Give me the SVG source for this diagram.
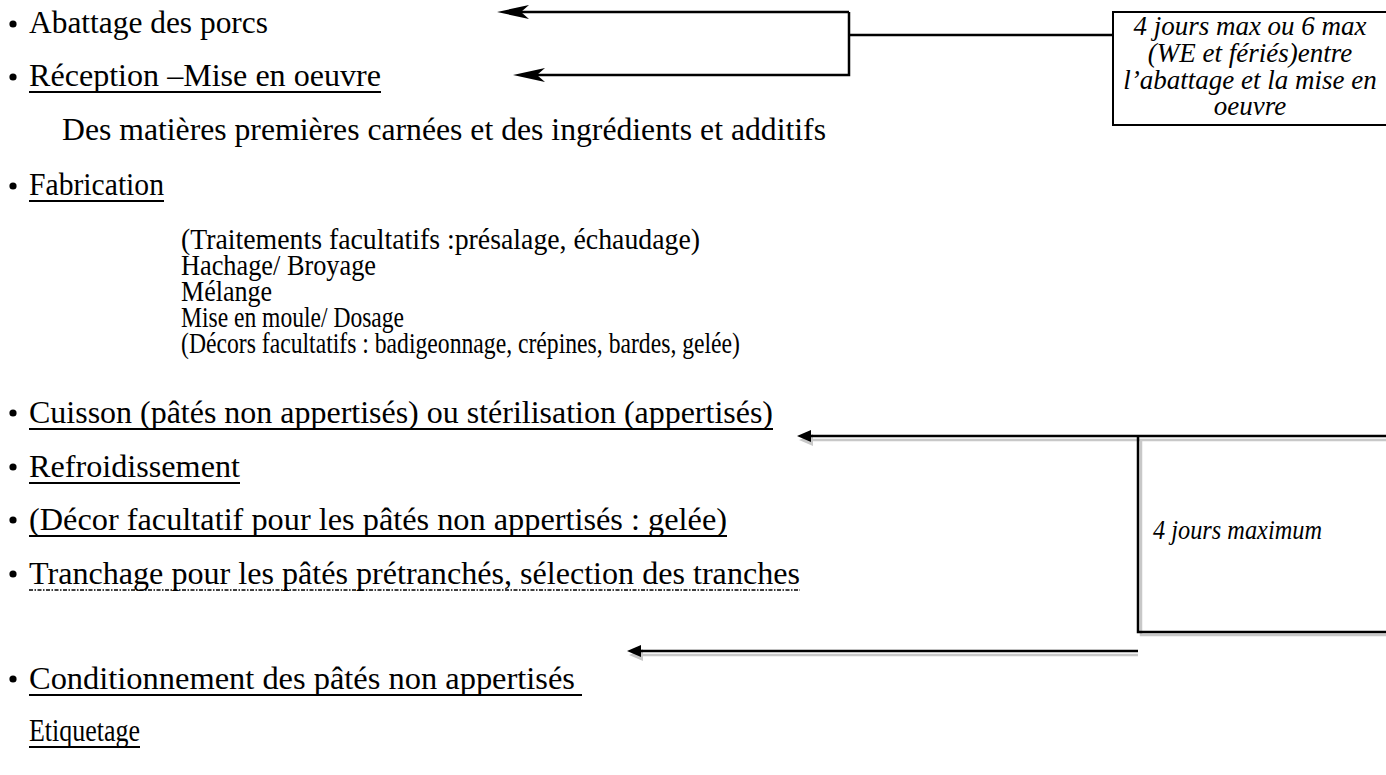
<svg xmlns="http://www.w3.org/2000/svg" width="1386" height="775" viewBox="0 0 1386 775">
<style>
.t{font-family:"Liberation Serif","Times New Roman",serif;font-size:31px;fill:#000}
.s{font-family:"Liberation Serif","Times New Roman",serif;font-size:29px;fill:#000}
.i{font-family:"Liberation Serif","Times New Roman",serif;font-size:27px;font-style:italic;fill:#000}
.u{stroke:#000;stroke-width:2;fill:none}
.ln{stroke:#000;stroke-width:2.5;fill:none}
.sh{stroke:#c8c8c8;stroke-width:2.5;fill:none}
.b{fill:#000}
</style>
<defs>
<marker id="barb" markerWidth="36" markerHeight="16" refX="13" refY="8" orient="auto" markerUnits="userSpaceOnUse">
<path d="M33,8 L1,1 L9,8 L1,15 Z" fill="#000"/>
</marker>
<marker id="tri" markerWidth="16" markerHeight="14" refX="5" refY="7" orient="auto" markerUnits="userSpaceOnUse">
<path d="M15,7 L1,1 L1,13 Z" fill="#000"/>
</marker>
<marker id="trisl" markerWidth="16" markerHeight="14" refX="5" refY="7" orient="auto" markerUnits="userSpaceOnUse">
<path d="M15,7 L1,1 L1,13 Z" fill="#c8c8c8"/>
</marker>
</defs>

<g id="connectors">
<path class="ln" d="M849,12 H517" marker-end="url(#barb)"/>
<path class="ln" d="M849,12 V75 H533" marker-end="url(#barb)"/>
<path class="ln" d="M849,35 H1113"/>
<path class="sh" d="M1386,440 H809" marker-end="url(#trisl)"/>
<path class="ln" d="M1386,436 H807" marker-end="url(#tri)"/>
<path class="sh" d="M1138,655 H639" marker-end="url(#trisl)"/>
<path class="ln" d="M1138,651 H637" marker-end="url(#tri)"/>
</g>

<g id="box-delai-abattage">
<rect x="1113" y="12" width="290" height="113" fill="#fff" stroke="#000" stroke-width="2"/>
<text class="i" x="1250" y="35" text-anchor="middle">4 jours max ou 6 max</text>
<text class="i" x="1250" y="62" text-anchor="middle">(WE et fériés)entre</text>
<text class="i" x="1250" y="89" text-anchor="middle">l’abattage et la mise en</text>
<text class="i" x="1250" y="115" text-anchor="middle">oeuvre</text>
</g>

<g id="box-4-jours">
<path class="sh" d="M1141,439 V635 H1386"/>
<path class="ln" d="M1138,436 V632 H1386"/>
<text class="i" x="1153" y="539" textLength="169" lengthAdjust="spacingAndGlyphs">4 jours maximum</text>
</g>

<g id="step-abattage">
<circle class="b" cx="13" cy="24" r="3.6"/>
<text class="t" x="29" y="33" textLength="239" lengthAdjust="spacingAndGlyphs">Abattage des porcs</text>
</g>

<g id="step-reception">
<circle class="b" cx="13" cy="77" r="3.6"/>
<text class="t" x="29" y="86" textLength="352" lengthAdjust="spacingAndGlyphs">Réception –Mise en oeuvre</text>
<line class="u" x1="29" y1="92" x2="381" y2="92"/>
<text class="t" x="62" y="140" textLength="764" lengthAdjust="spacingAndGlyphs">Des matières premières carnées et des ingrédients et additifs</text>
</g>

<g id="step-fabrication">
<circle class="b" cx="13" cy="186" r="3.6"/>
<text class="t" x="29" y="195" textLength="135" lengthAdjust="spacingAndGlyphs">Fabrication</text>
<line class="u" x1="29" y1="201" x2="164" y2="201"/>
<text class="s" x="181" y="249" textLength="519" lengthAdjust="spacingAndGlyphs">(Traitements facultatifs :présalage, échaudage)</text>
<text class="s" x="181" y="275" textLength="195" lengthAdjust="spacingAndGlyphs">Hachage/ Broyage</text>
<text class="s" x="181" y="301" textLength="91" lengthAdjust="spacingAndGlyphs">Mélange</text>
<text class="s" x="181" y="327" textLength="223" lengthAdjust="spacingAndGlyphs">Mise en moule/ Dosage</text>
<text class="s" x="181" y="353" textLength="559" lengthAdjust="spacingAndGlyphs">(Décors facultatifs : badigeonnage, crépines, bardes, gelée)</text>
</g>

<g id="step-cuisson">
<circle class="b" cx="13" cy="413" r="3.6"/>
<text class="t" x="29" y="423" textLength="744" lengthAdjust="spacingAndGlyphs">Cuisson (pâtés non appertisés) ou stérilisation (appertisés)</text>
<line class="u" x1="29" y1="429" x2="773" y2="429"/>
</g>

<g id="step-refroidissement">
<circle class="b" cx="13" cy="467" r="3.6"/>
<text class="t" x="29" y="477" textLength="211" lengthAdjust="spacingAndGlyphs">Refroidissement</text>
<line class="u" x1="29" y1="483" x2="240" y2="483"/>
</g>

<g id="step-decor">
<circle class="b" cx="13" cy="520" r="3.6"/>
<text class="t" x="29" y="530" textLength="698" lengthAdjust="spacingAndGlyphs">(Décor facultatif pour les pâtés non appertisés : gelée)</text>
<line class="u" x1="29" y1="536" x2="727" y2="536"/>
</g>

<g id="step-tranchage">
<circle class="b" cx="13" cy="574" r="3.6"/>
<text class="t" x="29" y="584" textLength="771" lengthAdjust="spacingAndGlyphs">Tranchage pour les pâtés prétranchés, sélection des tranches</text>
<line x1="29" y1="590" x2="800" y2="590" stroke="#000" stroke-width="1.6" stroke-dasharray="4 1.5 1.5 1.5"/>
</g>

<g id="step-conditionnement">
<circle class="b" cx="13" cy="679" r="3.6"/>
<text class="t" x="29" y="689" textLength="546" lengthAdjust="spacingAndGlyphs">Conditionnement des pâtés non appertisés</text>
<line class="u" x1="29" y1="695" x2="582" y2="695"/>
</g>

<g id="step-etiquetage">
<text class="t" x="29" y="741" textLength="111" lengthAdjust="spacingAndGlyphs">Etiquetage</text>
<line class="u" x1="29" y1="747" x2="140" y2="747"/>
</g>
</svg>
